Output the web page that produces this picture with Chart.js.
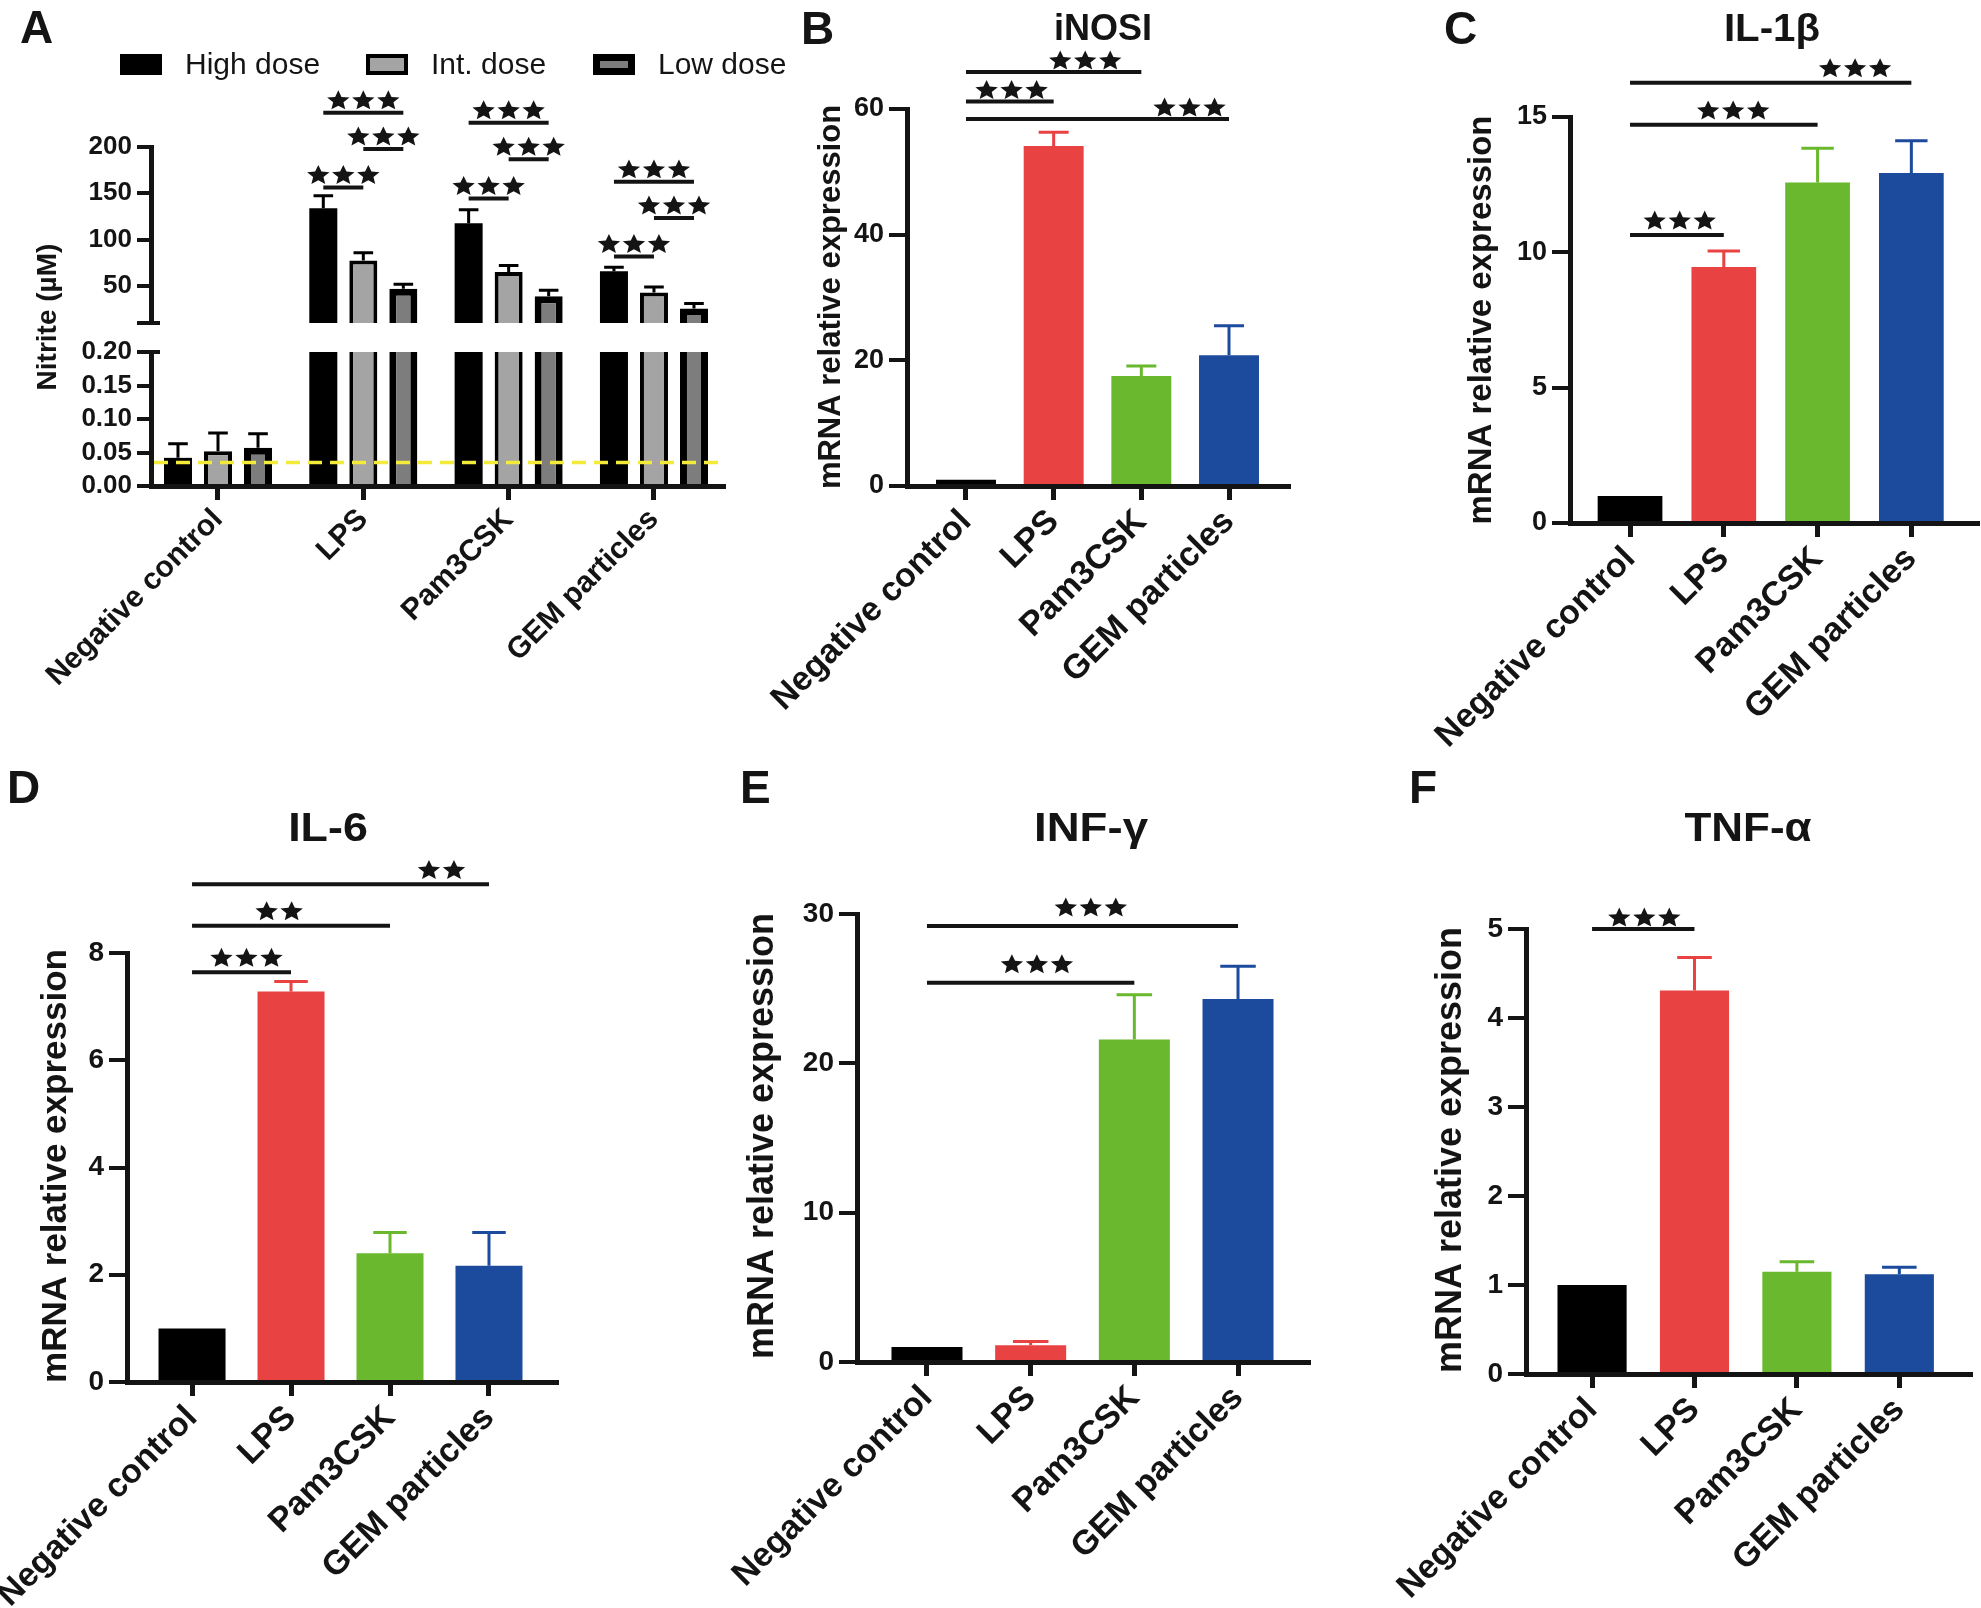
<!DOCTYPE html>
<html lang="en">
<head>
<meta charset="UTF-8">
<title>Nitrite release and cytokine mRNA expression</title>
<script src="https://cdn.jsdelivr.net/npm/chart.js"></script>
<style>
  html, body { margin: 0; padding: 0; background: #fff; }
  #page { position: relative; width: 1981px; height: 1608px; overflow: hidden; background: #fff; }
  #page canvas { position: absolute; }
</style>
</head>
<body>
<div id="page"></div>
<script>
// ---- data ----
const categories = ['Negative control', 'LPS', 'Pam3CSK', 'GEM particles'];
const doseLabels = ['High dose', 'Int. dose', 'Low dose'];

// A: nitrite (µM), mean and upper SD per dose
const nitriteHigh = [0.042, 133.8, 117.7, 65.8];
const nitriteHighSd = [0.021, 13.6, 14.6, 4.3];
const nitriteInt = [0.052, 77.6, 65.0, 42.8];
const nitriteIntSd = [0.027, 8.2, 7.2, 6.1];
const nitriteLow = [0.057, 47.1, 38.9, 25.7];
const nitriteLowSd = [0.021, 4.7, 6.4, 5.3];
const detectionLimit = 0.035;
const nitriteUpperTicks = [10, 50, 100, 150, 200];   // 10 = break cap, no label
const nitriteLowerTicks = [0, 0.05, 0.10, 0.15, 0.20];
// [category, dose a, dose b, height]
const nitriteSig = [
  [1, 0, 2, 236.9], [1, 1, 2, 197.9], [1, 0, 1, 156.3],
  [2, 0, 2, 226.2], [2, 1, 2, 186.8], [2, 0, 1, 144.5],
  [3, 0, 2, 162.4], [3, 1, 2, 123.4], [3, 0, 1, 81.9]
];

// B-F: mRNA relative expression
const inosValues = [1, 54.1, 17.5, 20.8];
const inosSd = [0, 2.2, 1.6, 4.7];
const inosTicks = [0, 20, 40, 60];
const inosSig = [[0, 2, 65.9, 3, 1.36], [0, 1, 61.2, 3, 0.52], [0, 3, 58.4, 3, 2.55]];

const il1bValues = [1, 9.46, 12.58, 12.93];
const il1bSd = [0, 0.59, 1.27, 1.19];
const il1bTicks = [0, 5, 10, 15];
const il1bSig = [[0, 3, 16.27, 3, 2.40], [0, 2, 14.71, 3, 1.10], [0, 1, 10.64, 3, 0.53]];

const il6Values = [1, 7.28, 2.40, 2.17];
const il6Sd = [0, 0.19, 0.39, 0.62];
const il6Ticks = [0, 2, 4, 6, 8];
const il6Sig = [[0, 3, 9.28, 2, 2.52], [0, 2, 8.51, 2, 0.88], [0, 1, 7.64, 3, 0.55]];

const infgValues = [1, 1.12, 21.6, 24.3];
const infgSd = [0, 0.26, 3.0, 2.2];
const infgTicks = [0, 10, 20, 30];
const infgSig = [[0, 3, 29.2, 3, 1.58], [0, 2, 25.4, 3, 1.06]];

const tnfaValues = [1, 4.31, 1.15, 1.12];
const tnfaSd = [0, 0.37, 0.11, 0.08];
const tnfaTicks = [0, 1, 2, 3, 4, 5];
const tnfaSig = [[0, 1, 5.0, 3, 0.51]];

// ---- style ----
const INK = '#141414';
const FONT = "'Liberation Sans', Arial, Helvetica, sans-serif";
const groupColors = ['#000000', '#e94242', '#69b82d', '#1c4a9c'];
const doseFill = ['#000000', '#a4a4a4', '#7d7d7d'];
const doseBorder = [0, 4, 7];
const Y_W = 90;

Chart.defaults.font.family = FONT;
Chart.defaults.color = INK;

// stars in the figure are a little wider than tall
function drawStars(ctx, cx, cy, n) {
  const r = 10.5, sx = 1.12, pitch = 25;
  const x0 = cx - (n - 1) * pitch / 2;
  for (let k = 0; k < n; k++) {
    const px = x0 + k * pitch;
    ctx.beginPath();
    for (let p = 0; p < 10; p++) {
      const rad = p % 2 ? r * 0.46 : r;
      const ang = -Math.PI / 2 + p * Math.PI / 5;
      ctx.lineTo(px + sx * rad * Math.cos(ang), cy + 0.1 * r + rad * Math.sin(ang));
    }
    ctx.closePath();
    ctx.fill();
  }
}

const panelDeco = {
  id: 'panelDeco',
  afterDraw(chart, args, o) {
    if (!o.box) return;
    const ctx = chart.ctx, dx = o.box.x, dy = o.box.y;
    ctx.save();
    ctx.fillStyle = INK;
    ctx.textBaseline = 'alphabetic';
    if (o.letter) {
      ctx.font = `bold 46px ${FONT}`;
      ctx.textAlign = 'left';
      ctx.fillText(o.letter, o.letterAt[0] - dx, o.letterAt[1] - dy);
    }
    if (o.title) {
      ctx.save();
      ctx.translate(o.titleAt[0] - dx, o.titleAt[1] - dy);
      ctx.scale(o.titleStretch || 1, 1);
      ctx.font = `bold ${o.titleSize}px ${FONT}`;
      ctx.textAlign = 'center';
      ctx.fillText(o.title, 0, 0);
      ctx.restore();
    }
    if (o.legend) {
      const L = o.legend;
      chart.data.datasets.forEach((ds, k) => {
        const x = L.x[k] - dx, y = L.y - dy;
        ctx.fillStyle = ds.borderWidth ? ds.borderColor : ds.backgroundColor;
        ctx.fillRect(x, y, L.w, L.h);
        if (ds.borderWidth) {
          const b = ds.borderWidth;
          ctx.fillStyle = ds.backgroundColor;
          ctx.fillRect(x + b, y + b, L.w - 2 * b, L.h - 2 * b);
        }
        ctx.fillStyle = INK;
        ctx.font = `${L.size}px ${FONT}`;
        ctx.textAlign = 'left';
        ctx.textBaseline = 'middle';
        ctx.fillText(ds.label, x + L.w + L.gap, y + L.h / 2 + 1);
      });
    }
    if (o.caps) {
      // short stubs to the right of the y axis where the axis is broken
      const ys = chart.scales.y, left = chart.chartArea.left;
      ctx.strokeStyle = INK;
      ctx.lineWidth = 4;
      o.caps.forEach(v => {
        const y = ys.getPixelForValue(v);
        ctx.beginPath();
        ctx.moveTo(left, y);
        ctx.lineTo(left + 9, y);
        ctx.stroke();
      });
    }
    if (o.yTitle) {
      ctx.translate(o.yTitleAt[0] - dx, o.yTitleAt[1] - dy);
      ctx.rotate(-Math.PI / 2);
      ctx.fillStyle = INK;
      ctx.font = `bold ${o.yTitleSize}px ${FONT}`;
      ctx.textAlign = 'center';
      ctx.textBaseline = 'middle';
      ctx.fillText(o.yTitle, 0, 0);
    }
    ctx.restore();
  }
};

const errorBars = {
  id: 'errorBars',
  afterDatasetsDraw(chart, args, o) {
    if (!o.width) return;
    const ctx = chart.ctx, ys = chart.scales.y;
    ctx.save();
    ctx.lineWidth = o.width;
    chart.data.datasets.forEach((ds, i) => {
      if (!ds.sd) return;
      chart.getDatasetMeta(i).data.forEach((el, j) => {
        const v = ds.data[j].y, s = ds.sd[j];
        if (!s || v < ys.min || v + s > ys.max) return;
        const y1 = ys.getPixelForValue(v), y2 = ys.getPixelForValue(v + s);
        const half = el.width * o.cap / 2;
        ctx.strokeStyle = Array.isArray(ds.errColor) ? ds.errColor[j] : ds.errColor;
        ctx.beginPath();
        ctx.moveTo(el.x, y1);
        ctx.lineTo(el.x, y2);
        ctx.moveTo(el.x - half, y2);
        ctx.lineTo(el.x + half, y2);
        ctx.stroke();
      });
    });
    ctx.restore();
  }
};

const sigBars = {
  id: 'sigBars',
  afterDraw(chart, args, o) {
    if (!o.lines) return;
    const ctx = chart.ctx, xs = chart.scales.x, ys = chart.scales.y;
    ctx.save();
    ctx.fillStyle = INK;
    ctx.strokeStyle = INK;
    ctx.lineWidth = 4;
    for (const L of o.lines) {
      let x1, x2, sx, val, n;
      if (o.grouped) {
        const [cat, a, b, h] = L;
        x1 = chart.getDatasetMeta(a).data[cat].x;
        x2 = chart.getDatasetMeta(b).data[cat].x;
        sx = (x1 + x2) / 2; val = h; n = 3;
      } else {
        const [from, to, h, count, at] = L;
        x1 = xs.getPixelForValue(from);
        x2 = xs.getPixelForValue(to);
        sx = xs.getPixelForValue(at); val = h; n = count;
      }
      const y = ys.getPixelForValue(val);
      ctx.beginPath();
      ctx.moveTo(x1, y);
      ctx.lineTo(x2, y);
      ctx.stroke();
      drawStars(ctx, sx, y - o.gap, n);
    }
    ctx.restore();
  }
};

const refLine = {
  id: 'refLine',
  afterDatasetsDraw(chart, args, o) {
    if (o.value === undefined) return;
    const ctx = chart.ctx, area = chart.chartArea;
    const y = chart.scales.y.getPixelForValue(o.value);
    ctx.save();
    ctx.strokeStyle = o.color;
    ctx.lineWidth = 3.5;
    ctx.setLineDash([14, 8]);
    ctx.beginPath();
    ctx.moveTo(area.left + 3, y);
    ctx.lineTo(area.right, y);
    ctx.stroke();
    ctx.restore();
  }
};

Chart.register(panelDeco, errorBars, sigBars, refLine);

function makeCanvas(box) {
  const c = document.createElement('canvas');
  c.width = box.w;
  c.height = box.h;
  c.style.left = box.x + 'px';
  c.style.top = box.y + 'px';
  document.getElementById('page').appendChild(c);
  return c;
}

// x axis takes all the room below the plot so rotated labels are not clipped
function xRoom(box, area) {
  return box.y + box.h - area.bottom;
}

function frame(box, area, xH) {
  return {
    padding: {
      left: area.left - box.x - Y_W,
      right: box.x + box.w - area.right,
      top: area.top - box.y,
      bottom: box.y + box.h - area.bottom - xH
    }
  };
}

function xScale(pad, fontSize, h) {
  return {
    type: 'linear',
    display: h > 0,
    offset: false,
    min: -pad[0],
    max: categories.length - 1 + pad[1],
    afterBuildTicks: s => { s.ticks = categories.map((c, i) => ({ value: i })); },
    afterFit: s => { s.height = h; s.paddingLeft = 0; s.paddingRight = 0; },
    border: { display: true, color: INK, width: 5 },
    grid: { display: true, offset: false, drawOnChartArea: false, drawTicks: true, tickLength: 14, tickWidth: 5, lineWidth: 5, color: INK },
    ticks: {
      autoSkip: false, maxRotation: 45, minRotation: 45, padding: 2, color: INK,
      font: { size: fontSize, weight: 'bold' },
      callback: v => categories[v]
    }
  };
}

function yScale(min, max, ticks, fmt, fontSize, tickLen) {
  return {
    min, max,
    afterBuildTicks: s => { s.ticks = ticks.map(v => ({ value: v })); },
    afterFit: s => { s.width = Y_W; s.paddingTop = 0; s.paddingBottom = 0; },
    border: { display: true, color: INK, width: 5 },
    grid: { display: true, drawOnChartArea: false, drawTicks: true, tickLength: tickLen, tickWidth: 4, lineWidth: 4, color: INK },
    ticks: { autoSkip: false, padding: 5, color: INK, font: { size: fontSize, weight: 'bold' }, callback: fmt }
  };
}

const noChrome = { legend: { display: false }, tooltip: { enabled: false }, title: { display: false } };

// ---- panel A (broken y axis: two stacked charts) ----
const nitriteSeries = [nitriteHigh, nitriteInt, nitriteLow];
const nitriteSds = [nitriteHighSd, nitriteIntSd, nitriteLowSd];

function nitriteDatasets() {
  return doseLabels.map((lab, k) => ({
    label: lab,
    data: nitriteSeries[k].map((v, i) => ({ x: i, y: v })),
    sd: nitriteSds[k],
    errColor: '#000000',
    backgroundColor: doseFill[k],
    borderColor: '#000000',
    borderWidth: doseBorder[k],
    categoryPercentage: 0.826,
    barPercentage: 0.7,
    clip: 0
  }));
}

const aPad = [0.461, 0.475];
const aUpperBox = { x: 0, y: 0, w: 800, h: 500 };
new Chart(makeCanvas(aUpperBox), {
  type: 'bar',
  data: { datasets: nitriteDatasets() },
  options: {
    responsive: false, animation: false,
    layout: frame(aUpperBox, { left: 151, right: 723, top: 147, bottom: 323 }, 0),
    scales: {
      x: xScale(aPad, 30, 0),
      y: yScale(10, 200, nitriteUpperTicks, v => (v === 10 ? '' : String(v)), 26, 14)
    },
    plugins: Object.assign({}, noChrome, {
      panelDeco: {
        box: aUpperBox, letter: 'A', letterAt: [20, 43],
        yTitle: 'Nitrite (\u00b5M)', yTitleAt: [48, 317], yTitleSize: 28,
        legend: { x: [120, 366, 593], y: 54, w: 42, h: 21, gap: 23, size: 30 },
        caps: [10]
      },
      errorBars: { width: 3, cap: 0.7 },
      sigBars: { lines: nitriteSig, grouped: true, gap: 13 }
    })
  }
});

const aLowerBox = { x: 0, y: 340, w: 780, h: 420 };
const aLowerArea = { left: 151, right: 723, top: 352, bottom: 486 };
const aRoom = xRoom(aLowerBox, aLowerArea);
new Chart(makeCanvas(aLowerBox), {
  type: 'bar',
  data: { datasets: nitriteDatasets() },
  options: {
    responsive: false, animation: false,
    layout: frame(aLowerBox, aLowerArea, aRoom),
    scales: {
      x: xScale(aPad, 30, aRoom),
      y: yScale(0, 0.2, nitriteLowerTicks, v => v.toFixed(2), 26, 14)
    },
    plugins: Object.assign({}, noChrome, {
      panelDeco: { box: aLowerBox, caps: [0.2] },
      errorBars: { width: 3, cap: 0.7 },
      refLine: { value: detectionLimit, color: '#f4ea3a' }
    })
  }
});

// ---- panels B-F ----
function barPanel(p) {
  const room = xRoom(p.box, p.area);
  return new Chart(makeCanvas(p.box), {
    type: 'bar',
    data: {
      datasets: [{
        label: p.title,
        data: p.values.map((v, i) => ({ x: i, y: v })),
        sd: p.sd,
        errColor: groupColors,
        backgroundColor: groupColors,
        borderWidth: 0,
        categoryPercentage: p.barFrac,
        barPercentage: 1,
        clip: 0
      }]
    },
    options: {
      responsive: false, animation: false,
      layout: frame(p.box, p.area, room),
      scales: {
        x: xScale(p.xPad, 34, room),
        y: yScale(0, p.ticks[p.ticks.length - 1], p.ticks, v => String(v), p.tickSize, 18)
      },
      plugins: Object.assign({}, noChrome, {
        panelDeco: {
          box: p.box, letter: p.letter, letterAt: p.letterAt,
          title: p.title, titleAt: p.titleAt, titleSize: p.titleSize, titleStretch: p.titleStretch,
          yTitle: 'mRNA relative expression', yTitleAt: p.yTitleAt, yTitleSize: p.yTitleSize
        },
        errorBars: { width: 3, cap: 0.5 },
        sigBars: { lines: p.sig, gap: p.gap }
      })
    }
  });
}

barPanel({
  box: { x: 740, y: 0, w: 640, h: 780 }, area: { left: 907, right: 1288, top: 109, bottom: 486 },
  xPad: [0.673, 0.673], barFrac: 0.684, tickSize: 27,
  values: inosValues, sd: inosSd, ticks: inosTicks, sig: inosSig, gap: 12,
  letter: 'B', letterAt: [801, 44], title: 'iNOSI', titleAt: [1103, 40], titleSize: 36, titleStretch: 1,
  yTitleAt: [831, 297], yTitleSize: 31
});

barPanel({
  box: { x: 1380, y: 0, w: 601, h: 790 }, area: { left: 1570, right: 1977, top: 117, bottom: 523 },
  xPad: [0.64, 0.70], barFrac: 0.69, tickSize: 27,
  values: il1bValues, sd: il1bSd, ticks: il1bTicks, sig: il1bSig, gap: 15,
  letter: 'C', letterAt: [1444, 44], title: 'IL-1\u03b2', titleAt: [1772, 41], titleSize: 38, titleStretch: 1.06,
  yTitleAt: [1482, 320], yTitleSize: 33
});

barPanel({
  box: { x: 0, y: 760, w: 700, h: 848 }, area: { left: 127, right: 556, top: 953, bottom: 1382 },
  xPad: [0.657, 0.677], barFrac: 0.677, tickSize: 28,
  values: il6Values, sd: il6Sd, ticks: il6Ticks, sig: il6Sig, gap: 15,
  letter: 'D', letterAt: [7, 803], title: 'IL-6', titleAt: [328, 841], titleSize: 40, titleStretch: 1.12,
  yTitleAt: [56, 1166], yTitleSize: 35
});

barPanel({
  box: { x: 700, y: 760, w: 680, h: 848 }, area: { left: 857, right: 1308, top: 914, bottom: 1362 },
  xPad: [0.675, 0.675], barFrac: 0.685, tickSize: 28,
  values: infgValues, sd: infgSd, ticks: infgTicks, sig: infgSig, gap: 19,
  letter: 'E', letterAt: [740, 803], title: 'INF-\u03b3', titleAt: [1091, 841], titleSize: 40, titleStretch: 1.14,
  yTitleAt: [763, 1136], yTitleSize: 36
});

barPanel({
  box: { x: 1380, y: 760, w: 601, h: 848 }, area: { left: 1526, right: 1970, top: 929, bottom: 1374 },
  xPad: [0.645, 0.69], barFrac: 0.675, tickSize: 28,
  values: tnfaValues, sd: tnfaSd, ticks: tnfaTicks, sig: tnfaSig, gap: 12,
  letter: 'F', letterAt: [1409, 803], title: 'TNF-\u03b1', titleAt: [1748, 841], titleSize: 40, titleStretch: 1.1,
  yTitleAt: [1451, 1150], yTitleSize: 36
});
</script>
</body>
</html>
